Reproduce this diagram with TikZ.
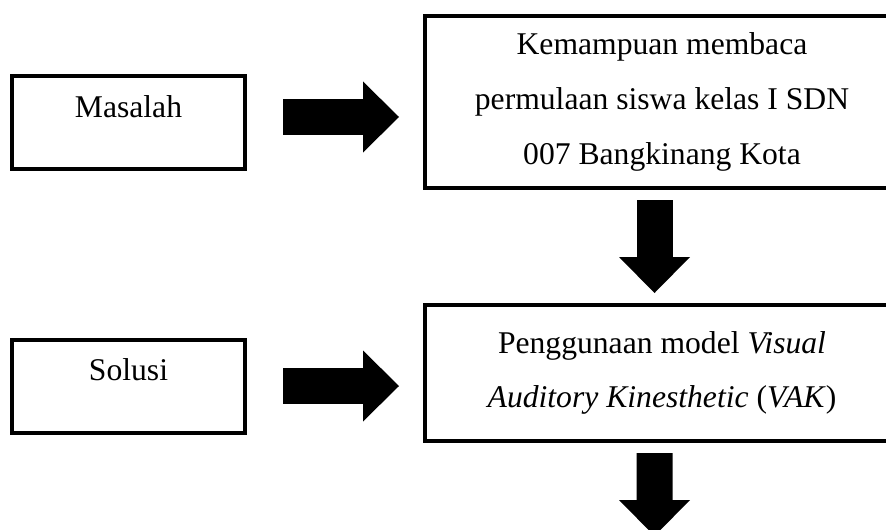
\documentclass[tikz,border=0pt]{standalone}
\usepackage{fontspec}
\setmainfont{Liberation Serif}
\usetikzlibrary{arrows.meta,calc}

\begin{document}
\begin{tikzpicture}[>={Triangle[width=1.775cm,length=0.9cm,line width=0pt]},
  line width=0.1cm,font=\fontsize{22.5}{39}\selectfont,
  box node/.style={rectangle,draw,align=center,inner sep=0pt},
  side node/.style={box node,minimum width=5.825cm,minimum height=2.325cm,
                    text height=0.5cm,text depth=0.765cm},
  main node/.style={box node,minimum width=11.85cm},
  block/.style={->,line width=0.9cm}]
  \path[use as bounding box,clip] (0,0) rectangle (22.15,-13.225);

  \node[side node] (masalah) at (3.2125,-3.0625) {Masalah};
  \node[side node] (solusi) at (3.2125,-9.65) {Solusi};
  \node[main node,minimum height=4.3cm] (kemampuan) at (16.55,-2.55)
    {Kemampuan membaca\\permulaan siswa kelas I SDN\\007 Bangkinang Kota};
  \node[main node,minimum height=3.4cm] (penggunaan) at (16.55,-9.325)
    {Penggunaan model \textit{Visual}\\\textit{Auditory Kinesthetic} (\textit{VAK})};
  \coordinate (hasil) at (16.3625,-13.4);

  \draw[block] ($(masalah.east)+(0.9,0.1375)$) -- ($(masalah.east -| kemampuan.west)+(-0.6,0.1375)$);
  \draw[block] ($(solusi.east)+(0.9,0)$) -- ($(solusi.east -| penggunaan.west)+(-0.6,0)$);
  \draw[block] ($(kemampuan.south)+(-0.1875,-0.25)$) -- ($(penggunaan.north)+(-0.1875,0.25)$);
  \draw[block] ($(penggunaan.south)+(-0.1875,-0.25)$) -- (hasil);
\end{tikzpicture}
\end{document}
